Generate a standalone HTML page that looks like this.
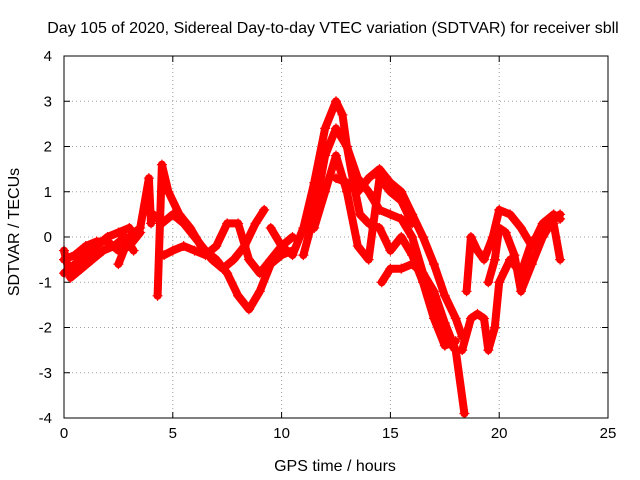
<!DOCTYPE html>
<html><head><meta charset="utf-8"><style>
body{margin:0;background:#fff;}
svg{display:block;font-family:"Liberation Sans",sans-serif;}
</style></head><body>
<svg id="chart" width="640" height="480">
<text x="333" y="33" text-anchor="middle" font-size="16">Day 105 of 2020, Sidereal Day-to-day VTEC variation (SDTVAR) for receiver sbll</text>
<text x="335" y="471" text-anchor="middle" font-size="16">GPS time / hours</text>
<text transform="translate(19,232) rotate(-90)" text-anchor="middle" font-size="16">SDTVAR / TECUs</text>
<g id="grid"></g><g id="marks"></g>
<rect x="64" y="56" width="544" height="362" fill="none" stroke="#000"/>
</svg>
<script>
const xTicks=[0,5,10,15,20,25];
const yTicks=[-4,-3,-2,-1,0,1,2,3,4];
const t1=[[0,-0.8],[0.5,-0.6],[1,-0.4],[1.5,-0.2],[2,0],[2.5,0.1],[3,0.2],[3.3,0]];
const t2=[[0,-0.5],[0.5,-0.4],[1,-0.2],[1.5,-0.1],[2,-0.1],[2.5,-0.3],[3,-0.2],[3.5,0.1]];
const t3=[[2.5,-0.6],[3,0],[3.5,0.2],[3.9,1.3],[4.0,0.3]];
const t4=[[4.1,0.5],[4.5,0.3],[5,0.5],[5.5,0.3],[6,0],[6.5,-0.3],[7,-0.5],[7.5,-0.8],[8,-1.3],[8.5,-1.6],[9,-1.2],[9.5,-0.6],[10,-0.4],[10.5,-0.3]];
const t5=[[4.3,-1.3],[4.5,1.6],[4.8,1.0],[5.3,0.5],[5.8,0.2],[6.3,-0.2],[6.8,-0.5],[7.3,-0.7],[7.8,-0.5],[8.3,-0.2],[8.8,0.3],[9.2,0.6]];
const t6=[[4.6,-0.4],[5,-0.3],[5.5,-0.2],[6,-0.3],[6.5,-0.4],[7,-0.2],[7.5,0.3],[8,0.3],[8.5,-0.5],[9,-0.8],[9.5,-0.5],[10,-0.2],[10.5,0]];
const t7=[[9.5,0.2],[10,-0.2],[10.5,-0.4],[11,0.2],[11.5,1.2],[12,2.4],[12.5,3.0],[12.8,2.7],[13,2.0],[13.3,1.2],[13.6,0.5],[14,0.3],[14.5,0.2],[15,-0.3],[15.5,0],[16,-0.4],[16.5,-1.0],[17,-1.8],[17.5,-2.4],[18,-2.3]];
const t8=[[11,-0.4],[11.5,0.5],[12,1.8],[12.5,2.4],[13,2.0],[13.5,1.3],[14,1.0],[14.5,0.6],[15,0.5],[15.5,0.4],[16,0.0],[16.5,-0.8],[17,-1.6],[17.5,-2.2],[18,-2.5]];
const t9=[[11.5,0.2],[12,1.0],[12.5,1.8],[13,1.0],[13.5,-0.2],[14,-0.5],[14.5,1.3],[15,1.0],[15.5,0.8],[16,0.3]];
const t10=[[12.5,1.3],[13,1.2],[13.5,1.0],[14,1.3],[14.5,1.5],[15,1.2],[15.5,1.0],[16,0.5],[16.5,0],[17,-0.6],[17.5,-1.3],[18,-1.8],[18.3,-2.2]];
const t11=[[14.6,-1.0],[15,-0.7],[15.5,-0.7],[16,-0.6],[16.5,-0.8],[17,-1.2],[17.5,-1.9],[18,-2.5],[18.4,-3.9]];
const t12=[[18.5,-1.2],[18.7,0],[19,-0.3],[19.3,-0.5],[19.7,0],[20,0.6],[20.5,0.5],[21,0.2],[21.5,-0.2],[22,0.3],[22.5,0.5],[22.8,0.4]];
const t13=[[18.3,-2.5],[18.7,-1.8],[19,-1.7],[19.3,-1.8],[19.5,-2.5],[19.8,-2.0],[20,-1.0],[20.5,-0.5],[21,-0.8],[21.5,-0.1],[22,0.1],[22.5,0.3],[22.8,-0.5]];
const t14=[[19.5,-1.0],[19.8,-0.5],[20,0.2],[20.3,0.1],[20.7,-0.4],[21,-1.2],[21.5,-0.6],[22,0],[22.5,0.4],[22.8,0.5]];
const t15=[[0,-0.3],[0.3,-0.9],[0.8,-0.7],[1.3,-0.5],[1.8,-0.3],[2.3,-0.2],[2.8,0],[3.2,-0.3]];
const tracks=[t1,t2,t3,t4,t5,t6,t7,t8,t9,t10,t11,t12,t13,t14,t15];
const NS="http://www.w3.org/2000/svg";
const X0=64,X1=608,Y0=418,Y1=56;
function xs(v){return X0+(v-0)/(25-0)*(X1-X0);}
function ys(v){return Y0-(v+4)/8*(Y0-Y1);}
const grid=document.getElementById('grid'),marks=document.getElementById('marks');
function mk(tag,attrs,parent){const e=document.createElementNS(NS,tag);for(const k in attrs)e.setAttribute(k,attrs[k]);parent.appendChild(e);return e;}
xTicks.forEach(v=>{
  const x=xs(v);
  if(v>0&&v<25){const g=mk('line',{x1:x,x2:x,y1:Y1,y2:Y0,stroke:'#a0a0a0','stroke-dasharray':'1,3'},grid);
  
  }
  mk('line',{x1:x,x2:x,y1:Y0,y2:Y0-6,stroke:'#000'},grid);
  mk('line',{x1:x,x2:x,y1:Y1,y2:Y1+6,stroke:'#000'},grid);
  const t=mk('text',{x:x,y:Y0+20,'text-anchor':'middle','font-size':15},grid);t.textContent=v;
  
  
});
yTicks.forEach(v=>{
  const y=ys(v);
  if(v>-4&&v<4){const g=mk('line',{x1:X0,x2:X1,y1:y,y2:y,stroke:'#a0a0a0','stroke-dasharray':'1,3'},grid);
  
  }
  mk('line',{x1:X0,x2:X0+6,y1:y,y2:y,stroke:'#000'},grid);
  mk('line',{x1:X1,x2:X1-6,y1:y,y2:y,stroke:'#000'},grid);
  const t=mk('text',{x:X0-12,y:y+5,'text-anchor':'end','font-size':15},grid);t.textContent=v;
  
  
});
tracks.forEach((tr,i)=>{
  const d=tr.map((p,j)=>(j?'L':'M')+xs(p[0]).toFixed(1)+','+ys(p[1]).toFixed(1)).join('');
  const p=mk('path',{d:d,fill:'none',stroke:'#f00','stroke-width':8,'stroke-linejoin':'round','stroke-linecap':'round'},marks);
  
  
  tr.forEach(pt=>{
    const x=xs(pt[0]),y=ys(pt[1]);
    const m=mk('path',{d:`M${x-5},${y}h10M${x},${y-5}v10`,stroke:'#f00','stroke-width':1.2},marks);
    
    
  });
});
</script>
</body></html>
